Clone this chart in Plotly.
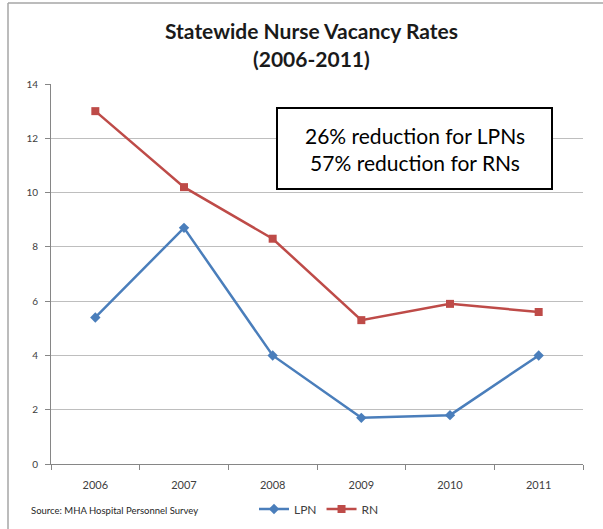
import plotly.graph_objects as go

years = ["2006", "2007", "2008", "2009", "2010", "2011"]
lpn = [5.4, 8.7, 4.0, 1.7, 1.8, 4.0]
rn = [13.0, 10.2, 8.3, 5.3, 5.9, 5.6]
y_ticks = [0, 2, 4, 6, 8, 10, 12, 14]

W, H = 603, 529
L, R, T, B = 51, 583, 84, 464

def px(x):
    return (x - L) / (R - L)

def py(y):
    return (B - y) / (B - T)

fig = go.Figure()
fig.add_trace(go.Scatter(x=years, y=lpn, name="LPN", mode="lines+markers",
                         line=dict(color="#4A7EBB", width=2.5),
                         marker=dict(symbol="diamond", size=8, color="#4A7EBB")))
fig.add_trace(go.Scatter(x=years, y=rn, name="RN", mode="lines+markers",
                         line=dict(color="#BE4B48", width=2.5),
                         marker=dict(symbol="square", size=8, color="#BE4B48")))

font = "Lato, 'Open Sans', sans-serif"

fig.update_layout(
    width=W, height=H,
    margin=dict(l=L, r=W - R, t=T, b=H - B, autoexpand=False),
    paper_bgcolor="white", plot_bgcolor="white",
    font=dict(family=font, color="#404040"),
    showlegend=True,
    legend=dict(orientation="h", x=px(254), y=py(509), xanchor="left", yanchor="middle",
                font=dict(size=12, color="#404040"), itemwidth=30,
                bgcolor="rgba(0,0,0,0)", tracegroupgap=0),
    xaxis=dict(type="category", range=[-0.5, 5.5], showgrid=False,
               showline=True, linecolor="#868686", linewidth=1,
               ticks="outside", ticklen=5, tickcolor="#868686",
               tickson="boundaries", ticklabelstandoff=11,
               tickfont=dict(size=11, color="#404040")),
    yaxis=dict(range=[0, 14], tickvals=y_ticks, showgrid=True,
               gridcolor="#BEBEBE", gridwidth=1,
               showline=True, linecolor="#868686", linewidth=1,
               ticks="outside", ticklen=5, tickcolor="#868686",
               ticklabelstandoff=5,
               tickfont=dict(size=10, color="#404040"), zeroline=False),
    shapes=[
        dict(type="line", xref="paper", yref="paper", x0=px(8), x1=px(8), y0=py(3), y1=py(529),
             line=dict(color="#A6A6A6", width=1.5)),
        dict(type="line", xref="paper", yref="paper", x0=px(8), x1=px(603), y0=py(3), y1=py(3),
             line=dict(color="#A6A6A6", width=1.5)),
        dict(type="rect", xref="paper", yref="paper", x0=px(277), x1=px(552), y0=py(189), y1=py(108),
             line=dict(color="black", width=2), fillcolor="white", layer="above"),
    ],
    annotations=[
        dict(text="<b>Statewide Nurse Vacancy Rates</b>", xref="paper", yref="paper",
             x=px(311), y=py(30), xanchor="center", yanchor="middle", showarrow=False,
             font=dict(size=21, color="#1A1A1A", family=font)),
        dict(text="<b>(2006-2011)</b>", xref="paper", yref="paper",
             x=px(311), y=py(59), xanchor="center", yanchor="middle", showarrow=False,
             font=dict(size=21, color="#1A1A1A", family=font)),
        dict(text="26% reduction for LPNs<br>57% reduction for RNs", xref="paper", yref="paper",
             x=px(414.5), y=py(148.5), xanchor="center", yanchor="middle", showarrow=False,
             font=dict(size=21, color="black", family=font)),
        dict(text="Source: MHA Hospital Personnel Survey", xref="paper", yref="paper",
             x=px(29), y=py(510), xanchor="left", yanchor="middle", showarrow=False,
             font=dict(size=9.5, color="#262626", family=font)),
    ],
)

fig.write_html("out.html", config={"displayModeBar": False},
               post_script="document.body.style.margin='0';document.body.style.overflow='hidden';")
